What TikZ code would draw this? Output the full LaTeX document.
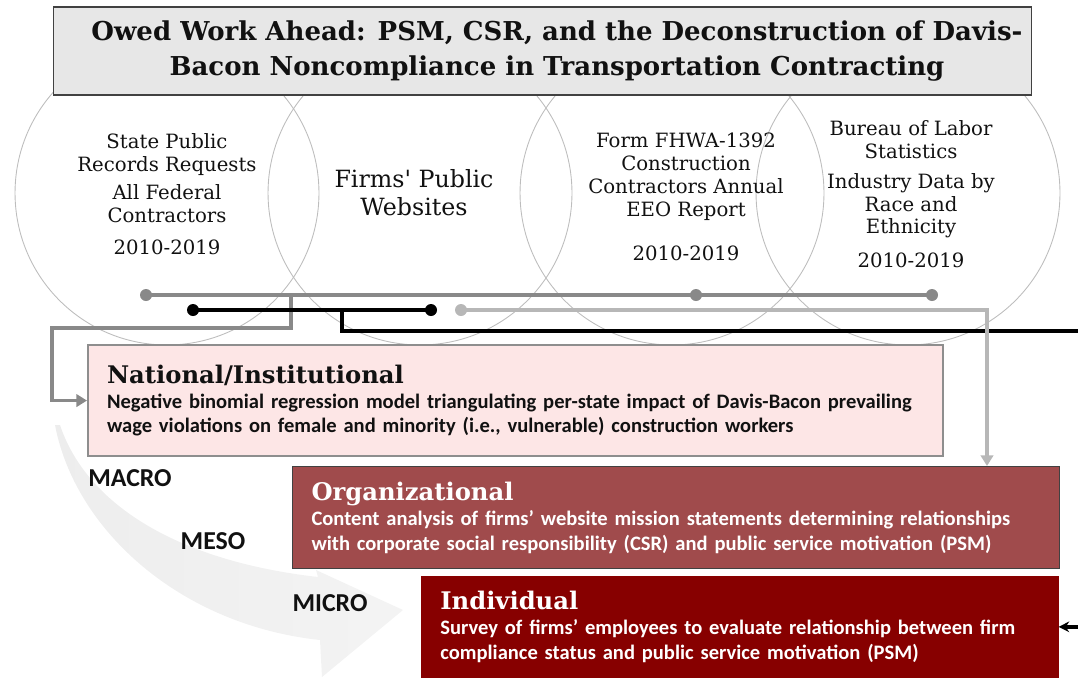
\documentclass[tikz,border=0pt]{standalone}
\usepackage{fontspec}
\setmainfont{DejaVu Serif}
\newfontfamily\calfont{Carlito}
\usetikzlibrary{arrows.meta,positioning,calc}
\definecolor{owInk}{HTML}{111111}
\definecolor{owTitleFill}{HTML}{E7E7E7}
\definecolor{owRing}{HTML}{BDBDBD}
\definecolor{owWireGray}{HTML}{898989}
\definecolor{owWireLight}{HTML}{B7B7B7}
\definecolor{owNatFill}{HTML}{FDE6E6}
\definecolor{owNatDraw}{HTML}{8E8E8E}
\definecolor{owOrgFill}{HTML}{A04B4C}
\definecolor{owIndFill}{HTML}{870000}
\tikzset{
  ring/.style={circle, draw=owRing, line width=0.5pt, minimum size=6.08cm, inner sep=0pt},
  srcTxt/.style={align=center, text=owInk, font=\fontsize{11.2}{13}\selectfont},
  titleBox/.style={draw=owInk!80, fill=owTitleFill, line width=0.6pt, minimum width=19.58cm, minimum height=1.76cm},
  titleTxt/.style={align=center, text=owInk, font=\bfseries\fontsize{14.8}{19.4}\selectfont},
  lvl/.style={rectangle, anchor=north west, align=left, inner xsep=0.38cm, inner ysep=0pt, font=\calfont\bfseries\fontsize{11.7}{14.2}\selectfont},
  lvlNat/.style={lvl, fill=owNatFill, draw=owNatDraw, line width=1.2pt, text=owInk},
  lvlOrg/.style={lvl, fill=owOrgFill, draw=owInk!80, line width=0.6pt, text=white},
  lvlInd/.style={lvl, fill=owIndFill, draw=owIndFill, text=white},
  wireGray/.style={draw=owWireGray, line width=2.2pt},
  wireDark/.style={draw=black, line width=2pt},
  wireLight/.style={draw=owWireLight, line width=2pt},
  scaleLbl/.style={text=owInk, font=\calfont\bfseries\fontsize{14.7}{16}\selectfont},
}
\newcommand{\lvlhead}[1]{{\rmfamily\fontsize{13.8}{17}\selectfont #1}}

\begin{document}
\begin{tikzpicture}[x=0.02cm, y=-0.02cm]
  \useasboundingbox (0,0) rectangle (1078,677);

  % data sources
  \node[ring] (ring1) at (167,193) {};
  \node[ring] (ring2) at (420,193) {};
  \node[ring] (ring3) at (672,193) {};
  \node[ring] (ring4) at (908,193) {};
  \node[srcTxt] (src1) at (167,194) {State Public\\Records Requests\\[3pt]All Federal\\Contractors\\[5pt]2010-2019};
  \node[srcTxt, font=\fontsize{13.5}{16}\selectfont] (src2) at (414,193) {Firms\textquotesingle{} Public\\Websites};
  \node[srcTxt] (src3) at (686,197) {Form FHWA-1392\\Construction\\Contractors Annual\\EEO Report\\[12pt]2010-2019};
  \node[srcTxt] (src4) at (911,194) {Bureau of Labor\\Statistics\\[4pt]Industry Data by\\Race and\\Ethnicity\\[6pt]2010-2019};

  % heading
  \node[titleBox] (title) at (542.5,51) {};
  \node[titleTxt] (titleText) at (557,51) {Owed Work Ahead: PSM, CSR, and the Deconstruction of Davis-\\Bacon Noncompliance in Transportation Contracting};

  % levels of analysis
  \node[lvlNat, minimum width=17.1cm, minimum height=2.22cm, text width=16.34cm] (nat) at (87,344)
    {\lvlhead{National/Institutional}\\Negative binomial regression model triangulating per-state impact of Davis-Bacon prevailing\\wage violations on female and minority (i.e., vulnerable) construction workers};
  \node[lvlOrg, minimum width=15.34cm, minimum height=2.04cm, text width=14.58cm] (org) at (292,466)
    {\lvlhead{Organizational}\\Content analysis of firms’ website mission statements determining relationships\\with corporate social responsibility (CSR) and public service motivation (PSM)};
  \node[lvlInd, minimum width=12.74cm, minimum height=2.02cm, text width=11.98cm] (ind) at (421,576)
    {\lvlhead{Individual}\\Survey of firms’ employees to evaluate relationship between firm\\compliance status and public service motivation (PSM)};

  % connectors
  \coordinate (g1) at (146,295);
  \coordinate (g2) at (696,295);
  \coordinate (g3) at (932,295);
  \coordinate (gTap) at (291,295);
  \coordinate (gBend) at (52,328);
  \coordinate (k1) at (193,310);
  \coordinate (k2) at (431,310);
  \coordinate (kTap) at (342,310);
  \coordinate (kOut) at (1100,331);
  \coordinate (l1) at (461,310);
  \coordinate (lTurn) at (987,310);

  \draw[wireGray] (g1) -- (g3);
  \draw[wireGray, -{Triangle[length=6pt,width=7pt]}] (gTap) |- (gBend) |- (nat.west);
  \draw[wireDark] (k1) -- (k2);
  \draw[wireDark, -{Stealth[length=6pt,width=6pt]}] (kTap) |- (kOut) |- (ind.east);
  \draw[wireLight, -{Triangle[length=6pt,width=7pt]}] (l1) -- (lTurn) -- (lTurn |- org.north);

  \foreach \p in {g1,g2,g3} \fill[owWireGray] (\p) circle (0.12cm);
  \foreach \p in {k1,k2} \fill[black] (\p) circle (0.12cm);
  \fill[owWireLight] (l1) circle (0.12cm);

  % macro to micro sweep
  \shade[left color=gray!14, middle color=gray!26, right color=gray!9]
    (60,425) .. controls (85,500) and (170,560) .. (318,577) -- (316,570) -- (403,610)
    -- (322,677) -- (320,640) .. controls (180,625) and (75,530) .. (55,425) -- cycle;

  \node[scaleLbl] (macro) at (130,478) {MACRO};
  \node[scaleLbl] (meso) at (213,541) {MESO};
  \node[scaleLbl] (micro) at (330,603) {MICRO};
\end{tikzpicture}
\end{document}
